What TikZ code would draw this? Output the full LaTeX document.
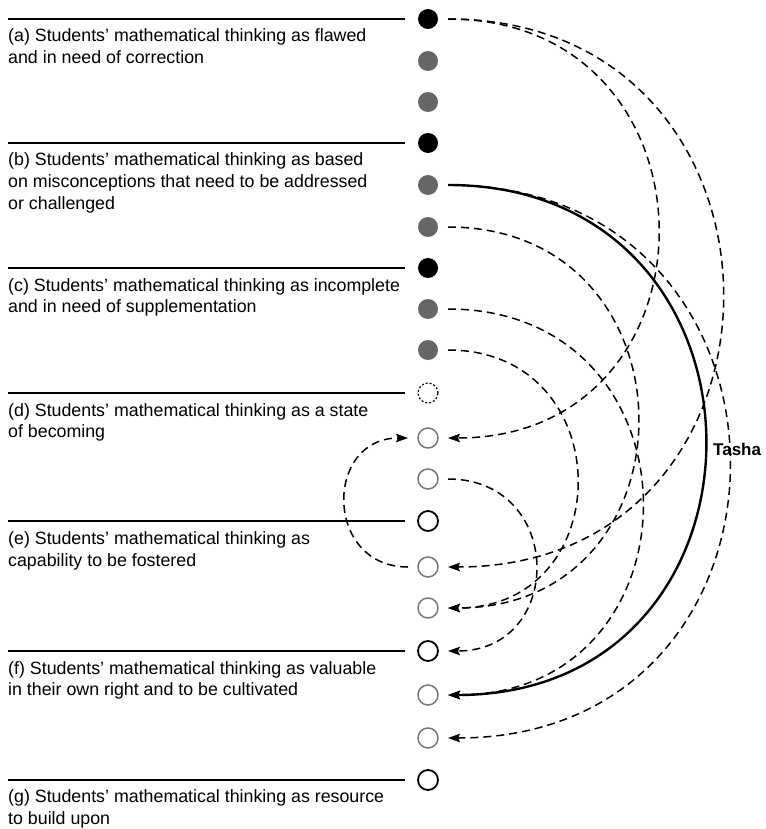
\documentclass[tikz,border=0pt]{standalone}
\usepackage{fontspec}
\setmainfont{Liberation Sans}
\usetikzlibrary{arrows.meta}
\definecolor{fillgray}{HTML}{666666}
\definecolor{ringgray}{HTML}{787878}
\begin{document}
\begin{tikzpicture}[x=1pt,y=-1pt,
  dot/.style={circle,minimum size=20pt,inner sep=0pt,outer sep=10pt},
  blk/.style={dot,fill=black},
  gfill/.style={dot,fill=fillgray},
  gring/.style={dot,draw=ringgray,line width=1.5pt},
  bring/.style={dot,draw=black,line width=1.8pt},
  dring/.style={dot,draw=black,dash pattern=on 2pt off 2pt,line width=1.2pt},
  rule/.style={line width=1.6pt},
  desc/.style={anchor=base west,align=left,inner sep=0pt,font=\fontsize{17.8}{21.7}\selectfont},
  tip/.style={-{Stealth[length=12pt,width=8.5pt,inset=2pt]}},
  dconn/.style={tip,line width=1.5pt,dash pattern=on 8pt off 5pt},
  sconn/.style={tip,line width=2.4pt}
]
\useasboundingbox (0,0) rectangle (765,829);

% rules
\foreach \yy in {19,143,268,393,521,651,780}
  \draw[rule] (8,\yy) -- (405,\yy);

% circles
\node[blk]   (r0)  at (428,19)  {};
\node[gfill] (r1)  at (428,61)  {};
\node[gfill] (r2)  at (428,102) {};
\node[blk]   (r3)  at (428,143) {};
\node[gfill] (r4)  at (428,185) {};
\node[gfill] (r5)  at (428,227) {};
\node[blk]   (r6)  at (428,268) {};
\node[gfill] (r7)  at (428,309) {};
\node[gfill] (r8)  at (428,350) {};
\node[dring] (r9)  at (428,393) {};
\node[gring] (r10) at (428,438) {};
\node[gring] (r11) at (428,479) {};
\node[bring] (r12) at (428,521) {};
\node[gring] (r13) at (428,567) {};
\node[gring] (r14) at (428,608) {};
\node[bring] (r15) at (428,651) {};
\node[gring] (r16) at (428,695) {};
\node[gring] (r17) at (428,738) {};
\node[bring] (r18) at (428,780) {};

% texts (base anchor = last line's baseline)
\node[desc] (ta) at (8,63.7)  {(a) Students’ mathematical thinking as flawed\\and in need of correction};
\node[desc] (tb) at (8,209.4) {(b) Students’ mathematical thinking as based\\on misconceptions that need to be addressed\\or challenged};
\node[desc] (tc) at (8,312.7) {(c) Students’ mathematical thinking as incomplete\\and in need of supplementation};
\node[desc] (td) at (8,437.7) {(d) Students’ mathematical thinking as a state\\of becoming};
\node[desc] (te) at (8,566.2) {(e) Students’ mathematical thinking as\\capability to be fostered};
\node[desc] (tf) at (8,695.7) {(f) Students’ mathematical thinking as valuable\\in their own right and to be cultivated};
\node[desc] (tg) at (8,824.5) {(g) Students’ mathematical thinking as resource\\to build upon};

% connectors
\draw[dconn] (r0.east) .. controls +(280,0) and +(280,0) .. (r10.east);
\draw[dconn] (r0.east) .. controls +(366,0) and +(366,0) .. (r13.east);
\draw[dconn] (r4.east) .. controls +(375,0) and +(375,0) .. (r17.east);
\draw[sconn] (r4.east) .. controls +(343,0) and +(343,0) .. (r16.east);
\draw[dconn] (r5.east) .. controls +(253,0) and +(253,0) .. (r14.east);
\draw[dconn] (r7.east) .. controls +(259,0) and +(259,0) .. (r16.east);
\draw[dconn] (r8.east) .. controls +(172,0) and +(172,0) .. (r14.east);
\draw[dconn] (r11.east) .. controls +(117,0) and +(117,0) .. (r15.east);
\draw[dconn] (r13.west) .. controls +(-84,0) and +(-84,0) .. (r10.west);

\node[anchor=base west,inner sep=0pt,font=\fontsize{17}{20}\selectfont\bfseries] (tasha) at (713,455) {Tasha};
\end{tikzpicture}
\end{document}
